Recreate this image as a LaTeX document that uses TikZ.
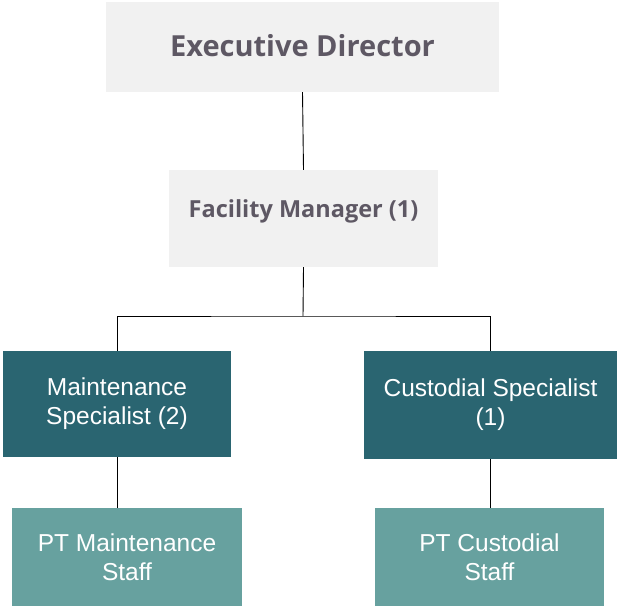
\documentclass[tikz,border=0pt]{standalone}
\usepackage{fontspec}
\setmainfont{Open Sans}
\newfontfamily\narrowfont{Liberation Sans}
\usepackage{tikz}

\definecolor{boxgray}{HTML}{F1F1F1}
\definecolor{textgray}{HTML}{5E5864}
\definecolor{darkteal}{HTML}{2A6571}
\definecolor{lightteal}{HTML}{67A19F}

\begin{document}
\begin{tikzpicture}[x=1pt, y=-1pt,
    topbox/.style={fill=boxgray, text=textgray, font=\bfseries, inner sep=0pt},
    midbox/.style={fill=darkteal, text=white, align=center, inner sep=0pt,
        font=\narrowfont\fontsize{24.5}{29}\selectfont},
    lowbox/.style={fill=lightteal, text=white, align=center, inner sep=0pt,
        font=\narrowfont\fontsize{24.5}{29}\selectfont},
    link/.style={black, line width=0.9pt}]
    \useasboundingbox (0, 0) rectangle (617, 608);

    % Top of the chart
    \node[topbox, minimum width=393, minimum height=90, text height=21pt, text depth=3pt,
        font=\bfseries\fontsize{29}{34}\selectfont] (exec) at (302.5, 47) {Executive Director};
    \node[topbox, minimum width=269, minimum height=97, text height=17pt, text depth=20pt,
        font=\bfseries\fontsize{23.5}{28}\selectfont] (fm) at (303.5, 218.5) {Facility Manager (1)};

    % Specialists
    \node[midbox, minimum width=228, minimum height=106] (ms) at (117, 404)
        {Maintenance\\Specialist (2)};
    \node[midbox, minimum width=253, minimum height=108] (cs) at (490.5, 405)
        {Custodial Specialist\\(1)};

    % Part-time staff
    \node[lowbox, minimum width=230, minimum height=98] (ptm) at (127, 557)
        {PT Maintenance\\Staff};
    \node[lowbox, minimum width=229, minimum height=98] (ptc) at (489.5, 557)
        {PT Custodial\\Staff};

    % Lines
    \coordinate (split) at (303, 316);
    \draw[link] (exec.south) -- (fm.north);
    \draw[link] (fm.south) -- (split);
    \draw[link] (ms.north) |- (split) -| (cs.north);
    \draw[link] (ms.south) -- (ms.south |- ptm.north);
    \draw[link] (cs.south) -- (cs.south |- ptc.north);
\end{tikzpicture}
\end{document}
